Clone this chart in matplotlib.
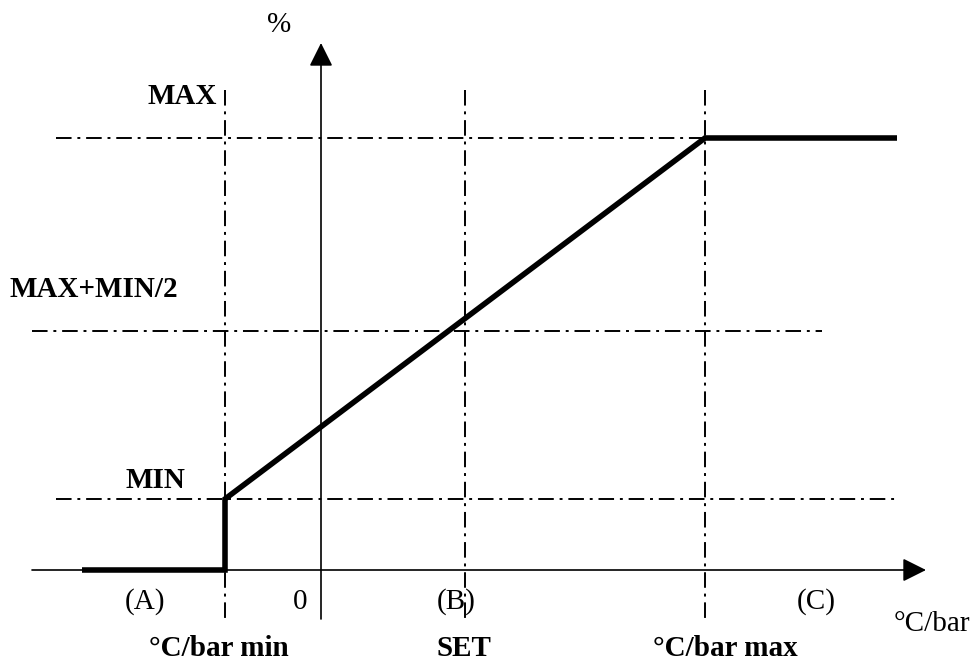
import matplotlib.pyplot as plt

# positions in picture units (origin top left, y grows downwards)
x_axis_y = 570
y_axis_x = 321
x_min, x_set, x_max = 225, 465, 705
y_min, y_half, y_max = 499, 331, 138

# the control curve
curve_x = [82, x_min, x_min, x_max, 897]
curve_y = [x_axis_y, x_axis_y, y_min, y_max, y_max]

# reference lines: (start, end) for each level
h_lines = {y_max: (56, x_max), y_half: (32, 822), y_min: (56, 899)}
v_lines = [x_min, x_set, x_max]
v_top, v_bottom = 90, 619

labels_left = [('MAX', 217, 104, 'right'), ('MAX+MIN/2', 10, 297, 'left'), ('MIN', 125, 488, 'left')]
zones = [('(A)', 145), ('0', 300), ('(B)', 456), ('(C)', 816)]
bottom_labels = [('°C/bar min', 219), ('SET', 464), ('°C/bar max', 725)]

plt.rcParams['font.family'] = ['Liberation Serif', 'DejaVu Serif']
fs = 21

fig = plt.figure(figsize=(9.74, 6.64), dpi=100)
ax = fig.add_axes([0, 0, 1, 1])
ax.set_xlim(0, 974)
ax.set_ylim(664, 0)
ax.axis('off')

dash = (0, (8, 3, 1.5, 3))
for y, (x0, x1) in h_lines.items():
    ax.plot([x0, x1], [y, y], color='k', lw=1.4, linestyle=dash)
for x in v_lines:
    ax.plot([x, x], [v_top, v_bottom], color='k', lw=1.4, linestyle=dash)

# axes with arrows
arrow = dict(arrowstyle='-|>,head_length=0.8,head_width=0.4', mutation_scale=18,
             color='k', lw=1.2, shrinkA=0, shrinkB=0)
ax.annotate('', xy=(926, x_axis_y), xytext=(32, x_axis_y), arrowprops=arrow)
ax.annotate('', xy=(y_axis_x, 43), xytext=(y_axis_x, 619), arrowprops=arrow)

ax.plot(curve_x, curve_y, color='k', lw=4.0, solid_joinstyle='miter', solid_capstyle='butt')

ax.text(279, 32, '%', fontsize=fs, ha='center', va='baseline')
ax.text(894, 631, '°C/bar', fontsize=fs, ha='left', va='baseline')
for txt, x, y, ha in labels_left:
    ax.text(x, y, txt, fontsize=fs, fontweight='bold', ha=ha, va='baseline')
for txt, x in zones:
    ax.text(x, 609, txt, fontsize=fs, ha='center', va='baseline')
for txt, x in bottom_labels:
    ax.text(x, 656, txt, fontsize=fs, fontweight='bold', ha='center', va='baseline')

fig.savefig('out.png', dpi=100, facecolor='white')
